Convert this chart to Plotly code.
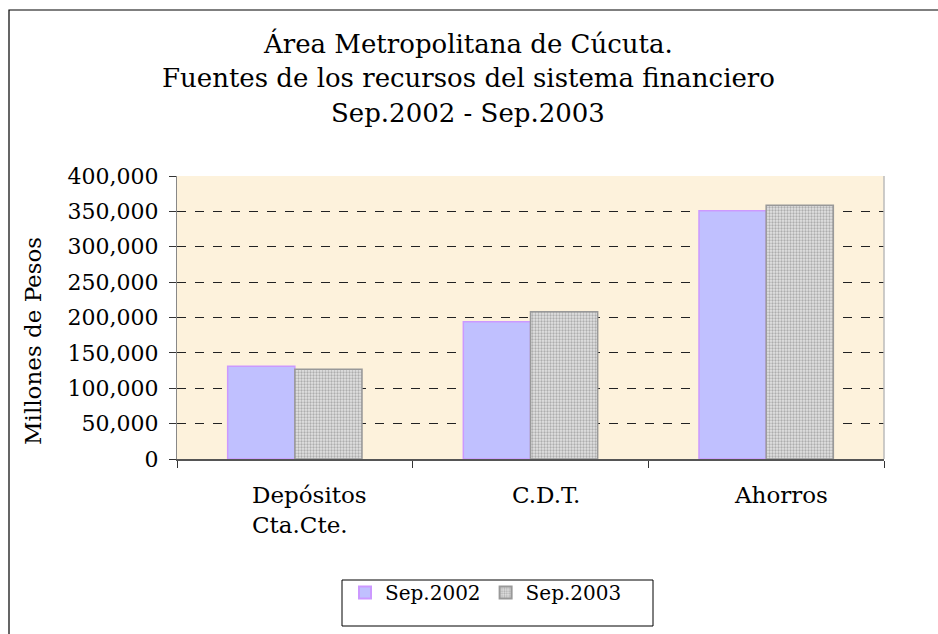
import plotly.graph_objects as go

categories = ["Depósitos<br>Cta.Cte.", "C.D.T.", "Ahorros"]
sep2002 = [131000, 194000, 351000]
sep2003 = [127000, 208000, 358500]
series_names = ["Sep.2002", "Sep.2003"]
title_lines = ["Área Metropolitana de Cúcuta.",
               "Fuentes de los recursos del sistema financiero",
               "Sep.2002 - Sep.2003"]
y_tickvals = [0, 50000, 100000, 150000, 200000, 250000, 300000, 350000, 400000]

W, H = 938, 634
L, R, T, B = 177, 884, 176, 459
FONT = "DejaVu Serif"

def px(x):
    return (x - L) / (R - L)

def py(y):
    return (B - y) / (B - T)

fig = go.Figure()
fig.add_trace(go.Bar(
    x=categories, y=sep2002, name=series_names[0],
    marker=dict(color="#C0C0FF", line=dict(color="#CC99FF", width=1.5)),
))
fig.add_trace(go.Bar(
    x=categories, y=sep2003, name=series_names[1],
    marker=dict(color="#C8C8C8", line=dict(color="#999999", width=1.5),
                pattern=dict(shape=".", fgcolor="#777777", bgcolor="#E2E2E2",
                             size=3, solidity=0.45)),
))

annotations = []
for i, (line, yc) in enumerate(zip(title_lines, [43, 78, 113])):
    annotations.append(dict(text=line, xref="paper", yref="paper",
                            x=px(468), y=py(yc), xanchor="center", yanchor="middle",
                            showarrow=False, font=dict(family=FONT, size=26, color="black")))
annotations.append(dict(text="Millones de Pesos", xref="paper", yref="paper",
                        x=px(33), y=py(341), xanchor="center", yanchor="middle",
                        textangle=-90, showarrow=False,
                        font=dict(family=FONT, size=23, color="black")))
for c in categories:
    annotations.append(dict(text=c, x=c, xref="x", yref="paper", y=py(480),
                            xanchor="center", yanchor="top", align="left",
                            xshift=15, showarrow=False,
                            font=dict(family=FONT, size=23, color="black")))

shapes = [
    dict(type="rect", xref="paper", yref="paper",
         x0=px(9), x1=px(960), y0=py(660), y1=py(10),
         line=dict(color="black", width=1.2), fillcolor="rgba(0,0,0,0)", layer="below"),
    dict(type="rect", xref="paper", yref="paper",
         x0=px(342), x1=px(653), y0=py(626), y1=py(580),
         line=dict(color="black", width=1), fillcolor="rgba(0,0,0,0)"),
    dict(type="line", xref="paper", yref="paper", x0=1, x1=1, y0=0, y1=1,
         line=dict(color="#BBBBBB", width=1.5)),
]

fig.update_layout(
    width=W, height=H,
    margin=dict(l=L, r=W - R, t=T, b=H - B),
    paper_bgcolor="white", plot_bgcolor="#FDF2DC",
    barmode="group", bargap=0.43, bargroupgap=0,
    font=dict(family=FONT, size=18, color="black"),
    showlegend=True,
    legend=dict(orientation="h", x=px(345), y=py(573), xanchor="left", yanchor="top",
                bgcolor="rgba(0,0,0,0)", borderwidth=0,
                font=dict(family=FONT, size=20, color="black"),
                itemsizing="constant", traceorder="normal"),
    annotations=annotations, shapes=shapes,
)
fig.update_xaxes(
    showticklabels=False, ticks="outside", tickson="boundaries", ticklen=7,
    tickcolor="#333333", showline=True, linecolor="#555555", linewidth=1.5,
    showgrid=False, fixedrange=True,
)
fig.update_yaxes(
    range=[0, 400000], tickvals=y_tickvals, tickformat=",d",
    ticks="outside", ticklen=7, tickcolor="#333333",
    showline=True, linecolor="#888888", linewidth=1,
    showgrid=True, gridcolor="#222222", griddash="dash", gridwidth=1,
    zeroline=False, tickfont=dict(family=FONT, size=22, color="black"),
    ticklabelstandoff=6, fixedrange=True,
)

fig.write_html("out.html", config={"displayModeBar": False},
               post_script="document.body.style.margin='0';document.body.style.overflow='hidden';")
